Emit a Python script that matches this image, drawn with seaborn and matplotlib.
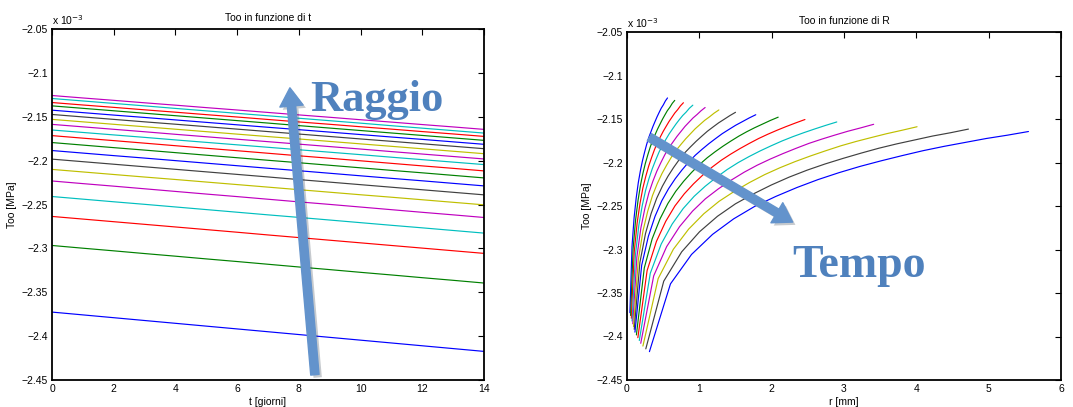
import numpy as np
import pandas as pd
import matplotlib
matplotlib.use("Agg")
import matplotlib.pyplot as plt
import matplotlib.patheffects as pe
import seaborn as sns

# ---- data: Too (x 1e-3 MPa) for each radius node, on days 0..14 ----
days = list(range(15))
too_r01 = [-2.3726, -2.3758, -2.3790, -2.3822, -2.3854, -2.3886, -2.3918, -2.3950, -2.3982, -2.4014, -2.4046, -2.4078, -2.4110, -2.4142, -2.4174]
too_r02 = [-2.2967, -2.2998, -2.3028, -2.3059, -2.3089, -2.3120, -2.3150, -2.3181, -2.3212, -2.3242, -2.3273, -2.3303, -2.3334, -2.3364, -2.3395]
too_r03 = [-2.2636, -2.2666, -2.2696, -2.2726, -2.2756, -2.2786, -2.2816, -2.2847, -2.2877, -2.2907, -2.2937, -2.2967, -2.2997, -2.3027, -2.3057]
too_r04 = [-2.2409, -2.2439, -2.2469, -2.2498, -2.2528, -2.2558, -2.2588, -2.2618, -2.2647, -2.2677, -2.2707, -2.2737, -2.2766, -2.2796, -2.2826]
too_r05 = [-2.2232, -2.2262, -2.2291, -2.2321, -2.2351, -2.2381, -2.2410, -2.2440, -2.2470, -2.2499, -2.2529, -2.2559, -2.2589, -2.2618, -2.2648]
too_r06 = [-2.2100, -2.2129, -2.2158, -2.2187, -2.2215, -2.2244, -2.2273, -2.2302, -2.2331, -2.2360, -2.2389, -2.2417, -2.2446, -2.2475, -2.2504]
too_r07 = [-2.1983, -2.2012, -2.2041, -2.2070, -2.2099, -2.2128, -2.2157, -2.2186, -2.2216, -2.2245, -2.2274, -2.2303, -2.2332, -2.2361, -2.2390]
too_r08 = [-2.1885, -2.1914, -2.1943, -2.1971, -2.2000, -2.2029, -2.2058, -2.2087, -2.2115, -2.2144, -2.2173, -2.2202, -2.2230, -2.2259, -2.2288]
too_r09 = [-2.1794, -2.1823, -2.1852, -2.1880, -2.1909, -2.1938, -2.1967, -2.1996, -2.2024, -2.2053, -2.2082, -2.2111, -2.2139, -2.2168, -2.2197]
too_r10 = [-2.1715, -2.1744, -2.1772, -2.1801, -2.1830, -2.1859, -2.1887, -2.1916, -2.1945, -2.1973, -2.2002, -2.2031, -2.2060, -2.2088, -2.2117]
too_r11 = [-2.1651, -2.1679, -2.1707, -2.1735, -2.1764, -2.1792, -2.1820, -2.1848, -2.1876, -2.1904, -2.1932, -2.1961, -2.1989, -2.2017, -2.2045]
too_r12 = [-2.1587, -2.1615, -2.1643, -2.1671, -2.1700, -2.1728, -2.1756, -2.1784, -2.1812, -2.1840, -2.1868, -2.1897, -2.1925, -2.1953, -2.1981]
too_r13 = [-2.1530, -2.1558, -2.1586, -2.1614, -2.1642, -2.1670, -2.1698, -2.1726, -2.1753, -2.1781, -2.1809, -2.1837, -2.1865, -2.1893, -2.1921]
too_r14 = [-2.1474, -2.1502, -2.1530, -2.1558, -2.1585, -2.1613, -2.1641, -2.1669, -2.1697, -2.1725, -2.1753, -2.1780, -2.1808, -2.1836, -2.1864]
too_r15 = [-2.1425, -2.1453, -2.1481, -2.1508, -2.1536, -2.1564, -2.1592, -2.1620, -2.1647, -2.1675, -2.1703, -2.1731, -2.1758, -2.1786, -2.1814]
too_r16 = [-2.1376, -2.1404, -2.1432, -2.1460, -2.1488, -2.1516, -2.1544, -2.1572, -2.1601, -2.1629, -2.1657, -2.1685, -2.1713, -2.1741, -2.1769]
too_r17 = [-2.1338, -2.1366, -2.1393, -2.1421, -2.1448, -2.1476, -2.1503, -2.1531, -2.1559, -2.1586, -2.1614, -2.1641, -2.1669, -2.1696, -2.1724]
too_r18 = [-2.1292, -2.1320, -2.1348, -2.1376, -2.1405, -2.1433, -2.1461, -2.1489, -2.1517, -2.1545, -2.1573, -2.1602, -2.1630, -2.1658, -2.1686]
too_r19 = [-2.1258, -2.1286, -2.1313, -2.1341, -2.1368, -2.1396, -2.1423, -2.1451, -2.1479, -2.1506, -2.1534, -2.1561, -2.1589, -2.1616, -2.1644]

# ---- radius (mm) of the 19 nodes on each day ----
r_day00 = [0.040, 0.069, 0.098, 0.127, 0.156, 0.184, 0.213, 0.242, 0.271, 0.300, 0.329, 0.358, 0.387, 0.416, 0.444, 0.473, 0.502, 0.531, 0.560]
r_day01 = [0.050, 0.084, 0.118, 0.152, 0.186, 0.219, 0.253, 0.287, 0.321, 0.355, 0.389, 0.423, 0.457, 0.491, 0.524, 0.558, 0.592, 0.626, 0.660]
r_day02 = [0.060, 0.100, 0.140, 0.180, 0.220, 0.260, 0.300, 0.340, 0.380, 0.420, 0.460, 0.500, 0.540, 0.580, 0.620, 0.660, 0.700, 0.740, 0.780]
r_day03 = [0.070, 0.117, 0.163, 0.210, 0.257, 0.303, 0.350, 0.397, 0.443, 0.490, 0.537, 0.583, 0.630, 0.677, 0.723, 0.770, 0.817, 0.863, 0.910]
r_day04 = [0.080, 0.136, 0.191, 0.247, 0.302, 0.358, 0.413, 0.469, 0.524, 0.580, 0.636, 0.691, 0.747, 0.802, 0.858, 0.913, 0.969, 1.024, 1.080]
r_day05 = [0.090, 0.156, 0.221, 0.287, 0.352, 0.418, 0.483, 0.549, 0.614, 0.680, 0.746, 0.811, 0.877, 0.942, 1.008, 1.073, 1.139, 1.204, 1.270]
r_day06 = [0.100, 0.178, 0.256, 0.333, 0.411, 0.489, 0.567, 0.644, 0.722, 0.800, 0.878, 0.956, 1.033, 1.111, 1.189, 1.267, 1.344, 1.422, 1.500]
r_day07 = [0.110, 0.203, 0.296, 0.388, 0.481, 0.574, 0.667, 0.759, 0.852, 0.945, 1.038, 1.131, 1.223, 1.316, 1.409, 1.502, 1.594, 1.687, 1.780]
r_day08 = [0.130, 0.239, 0.348, 0.457, 0.566, 0.674, 0.783, 0.892, 1.001, 1.110, 1.219, 1.328, 1.437, 1.546, 1.654, 1.763, 1.872, 1.981, 2.090]
r_day09 = [0.150, 0.278, 0.407, 0.535, 0.663, 0.792, 0.920, 1.048, 1.177, 1.305, 1.433, 1.562, 1.690, 1.818, 1.947, 2.075, 2.203, 2.332, 2.460]
r_day10 = [0.170, 0.322, 0.473, 0.625, 0.777, 0.928, 1.080, 1.232, 1.383, 1.535, 1.687, 1.838, 1.990, 2.142, 2.293, 2.445, 2.597, 2.748, 2.900]
r_day11 = [0.190, 0.369, 0.548, 0.727, 0.906, 1.084, 1.263, 1.442, 1.621, 1.800, 1.979, 2.158, 2.337, 2.516, 2.694, 2.873, 3.052, 3.231, 3.410]
r_day12 = [0.220, 0.431, 0.641, 0.852, 1.062, 1.273, 1.483, 1.694, 1.904, 2.115, 2.326, 2.536, 2.747, 2.957, 3.168, 3.378, 3.589, 3.799, 4.010]
r_day13 = [0.260, 0.508, 0.756, 1.003, 1.251, 1.499, 1.747, 1.994, 2.242, 2.490, 2.738, 2.986, 3.233, 3.481, 3.729, 3.977, 4.224, 4.472, 4.720]
r_day14 = [0.310, 0.601, 0.892, 1.183, 1.474, 1.766, 2.057, 2.348, 2.639, 2.930, 3.221, 3.512, 3.803, 4.094, 4.386, 4.677, 4.968, 5.259, 5.550]

too_rows = [too_r01, too_r02, too_r03, too_r04, too_r05, too_r06, too_r07, too_r08, too_r09, too_r10,
            too_r11, too_r12, too_r13, too_r14, too_r15, too_r16, too_r17, too_r18, too_r19]
r_rows = [r_day00, r_day01, r_day02, r_day03, r_day04, r_day05, r_day06, r_day07, r_day08, r_day09,
          r_day10, r_day11, r_day12, r_day13, r_day14]

matlab = [(0, 0, 1), (0, 0.5, 0), (1, 0, 0), (0, 0.75, 0.75), (0.75, 0, 0.75), (0.75, 0.75, 0), (0.25, 0.25, 0.25)]

sns.set_theme(style="white")
plt.rcParams['font.family'] = ['Liberation Sans', 'DejaVu Sans']
plt.rcParams['axes.unicode_minus'] = True
plt.rcParams['text.color'] = 'black'
plt.rcParams['axes.labelcolor'] = 'black'

fig = plt.figure(figsize=(10.73, 4.07), dpi=100)
axL = fig.add_axes([52/1073, 27/407, 432/1073, 351/407])
axR = fig.add_axes([627/1073, 27/407, 434/1073, 348/407])

# left chart: Too vs time, one line per radius node
dfL = pd.DataFrame([dict(t=d, too=v, node=j)
                    for j, row in enumerate(too_rows) for d, v in zip(days, row)])
sns.lineplot(data=dfL, x='t', y='too', hue='node', palette=[matlab[j % 7] for j in range(len(too_rows))],
             legend=False, estimator=None, sort=False, lw=0.85, ax=axL)

# right chart: Too vs radius, one curve per day
dfR = pd.DataFrame([dict(r=r_rows[k][j], too=too_rows[j][k], day=k, node=j)
                    for k in range(len(days)) for j in range(len(too_rows))])
sns.lineplot(data=dfR, x='r', y='too', hue='day', palette=[matlab[k % 7] for k in range(len(days))],
             legend=False, estimator=None, sort=False, lw=0.85, ax=axR)

fmt = matplotlib.ticker.FuncFormatter(lambda v, p: ('%g' % round(v, 3)).replace('-', '\u2212'))
for ax, xl, xt, title in [(axL, 't [giorni]', np.arange(0, 15, 2), 'Too in funzione di t'),
                          (axR, 'r [mm]', np.arange(0, 7, 1), 'Too in funzione di R')]:
    ax.set_ylim(-2.45, -2.05)
    ax.set_xlim(xt[0], xt[-1])
    ax.set_xticks(xt)
    ax.set_yticks(np.arange(-2.45, -2.049, 0.05))
    ax.yaxis.set_major_formatter(fmt)
    ax.xaxis.set_major_formatter(matplotlib.ticker.FormatStrFormatter('%g'))
    ax.tick_params(direction='in', length=4, width=0.8, top=True, right=True,
                   labelsize=7.5, colors='black', pad=3)
    for s in ax.spines.values():
        s.set_color('black'); s.set_linewidth(1.3)
    ax.set_xlabel(xl, fontsize=7.5, labelpad=2, color='black')
    ax.set_ylabel('Too [MPa]', fontsize=7.5, labelpad=3, color='black')
    ax.set_title(title, fontsize=7.5, pad=6, color='black')
    ax.text(0.0, 1.006, r'x 10$^{-3}$', transform=ax.transAxes, fontsize=7.5, ha='left', va='bottom',
            color='black')
    ax.grid(False)

arrow_c = '#6393cc'
text_c = '#4f81bd'
shadow = [pe.SimplePatchShadow(offset=(2, -2), alpha=0.25), pe.Normal()]
style = 'simple,head_width=1.4,head_length=1.1,tail_width=0.5'
a1 = axL.annotate('', xy=(7.71, -2.117), xytext=(8.52, -2.444),
                  arrowprops=dict(arrowstyle=style, color=arrow_c, shrinkA=0, shrinkB=0))
a1.arrow_patch.set_path_effects(shadow)
axL.text(8.36, -2.131, 'Raggio', fontsize=32, fontweight='bold', family='Liberation Serif',
         color=text_c, va='center', ha='left')
a2 = axR.annotate('', xy=(2.29, -2.2685), xytext=(0.31, -2.171),
                  arrowprops=dict(arrowstyle=style, color=arrow_c, shrinkA=0, shrinkB=0))
a2.arrow_patch.set_path_effects(shadow)
axR.text(2.29, -2.319, 'Tempo', fontsize=33, fontweight='bold', family='Liberation Serif',
         color=text_c, va='center', ha='left')

fig.savefig('out.png', dpi=100)
